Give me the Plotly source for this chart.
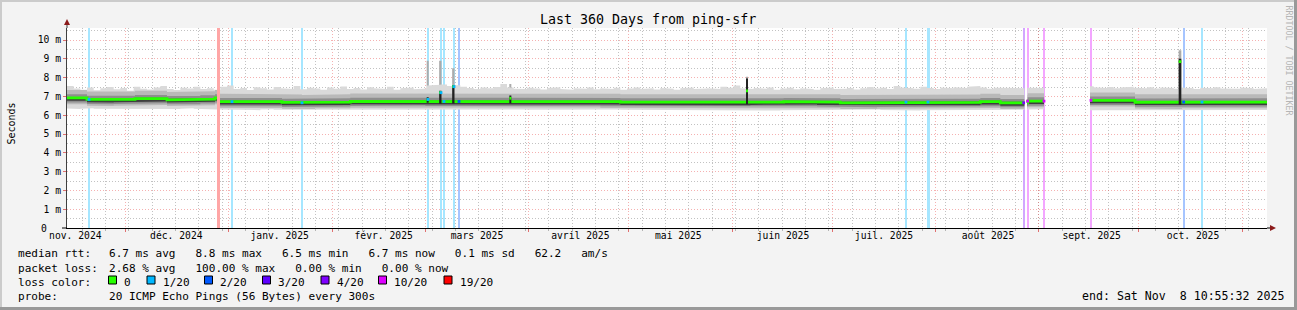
import plotly.graph_objects as go

# ---------------------------------------------------------------- data
SPAN_DAYS = 360.0                       # 360 days ending Sat Nov 8 2025 10:55:32
Y_TOP = 10.64                            # upper end of the value axis (ms)

month_start_days = [17.54, 48.54, 79.54, 107.54, 138.54, 168.54, 199.54,
                    229.54, 260.54, 291.54, 321.54, 352.54]
month_label_days = [2.5, 32.8, 63.8, 95.0, 123.0, 154.0, 183.4, 214.8,
                    245.1, 276.3, 307.4, 337.8]
month_labels = ["nov. 2024", "déc. 2024", "janv. 2025", "févr. 2025",
                "mars 2025", "avril 2025", "mai 2025", "juin 2025",
                "juil. 2025", "août 2025", "sept. 2025", "oct. 2025"]
first_monday_day = 4.54
week_days = 7

y_tick_vals = [1, 2, 3, 4, 5, 6, 7, 8, 9, 10]
y_tick_text = ["1 m", "2 m", "3 m", "4 m", "5 m", "6 m", "7 m",
               "8 m", "9 m", "10 m"]
y_zero_text = "0"
y_half_vals = [0.5, 1.5, 2.5, 3.5, 4.5, 5.5, 6.5, 7.5, 8.5, 9.5, 10.5]

# median rtt (ms), piecewise constant from each start day
median_start = [0.0, 6.0, 12.0, 14.0, 20.4, 30.0, 40.0, 44.4, 45.9, 64.5,
                70.5, 74.4, 85.0, 95.0, 104.0, 107.5, 118.0, 140.0, 150.0,
                160.0, 166.0, 175.0, 184.0, 195.0, 205.0, 215.0, 225.0,
                232.0, 243.0, 250.0, 262.0, 274.0, 280.0, 288.2, 306.9,
                320.4, 328.0, 334.5, 345.0, 352.0]
median_ms = [6.92, 6.84, 6.82, 6.84, 6.88, 6.82, 6.86, 6.92, 6.72, 6.68,
             6.66, 6.70, 6.73, 6.75, 6.76, 6.73, 6.74, 6.72, 6.74,
             6.72, 6.70, 6.68, 6.70, 6.68, 6.70, 6.72, 6.70,
             6.66, 6.68, 6.70, 6.68, 6.72, 6.66, 6.75, 6.79,
             6.69, 6.66, 6.70, 6.69, 6.70]

# outer smoke envelope (ms), one value per 2-day bin
envelope_bin_days = 2.0
smoke_top_ms = [
    7.55, 7.42, 7.36, 7.48, 7.33, 7.44, 7.50, 7.38, 7.45, 7.30, 7.52, 7.41,
    7.37, 7.47, 7.55, 7.40, 7.34, 7.46, 7.42, 7.51, 7.39, 7.44, 7.36, 7.52,
    7.58, 7.40, 7.45, 7.34, 7.49, 7.43, 7.37, 7.50, 7.44, 7.40, 7.56, 7.38,
    7.46, 7.42, 7.35, 7.48, 7.41, 7.53, 7.39, 7.45, 7.37, 7.49, 7.43, 7.40,
    7.51, 7.36, 7.44, 7.47, 7.38, 7.42, 7.58, 7.62, 7.64, 7.55, 7.60, 7.52,
    7.45, 7.40, 7.48, 7.43, 7.50, 7.66, 7.47, 7.41, 7.39, 7.46, 7.42, 7.37,
    7.45, 7.49, 7.40, 7.36, 7.44, 7.41, 7.47, 7.38, 7.43, 7.39, 7.46, 7.35,
    7.42, 7.48, 7.40, 7.44, 7.37, 7.45, 7.41, 7.36, 7.43, 7.47, 7.39, 7.42,
    7.44, 7.40, 7.52, 7.46, 7.58, 7.43, 7.39, 7.45, 7.41, 7.48, 7.36, 7.42,
    7.46, 7.38, 7.44, 7.40, 7.35, 7.43, 7.47, 7.39, 7.41, 7.45, 7.37, 7.44,
    7.50, 7.42, 7.46, 7.40, 7.56, 7.48, 7.44, 7.41, 7.52, 7.45, 7.39, 7.47,
    7.43, 7.49, 7.45, 7.51, 7.55, 7.47, 7.41, 7.46, 7.48, 7.44, 7.46, 7.44,
    7.46, 7.44, 7.45, 7.50, 7.53, 7.48, 7.56, 7.51, 7.47, 7.54, 7.49, 7.45,
    7.50, 7.43, 7.48, 7.52, 7.46, 7.44, 7.49, 7.42, 7.47, 7.45, 7.41, 7.48,
    7.44, 7.40, 7.46, 7.43, 7.49, 7.42, 7.45, 7.41, 7.47, 7.43, 7.40, 7.44]
smoke_bottom_ms = [
    6.36, 6.33, 6.35, 6.37, 6.34, 6.33, 6.36, 6.34, 6.35, 6.32, 6.34, 6.36,
    6.33, 6.35, 6.34, 6.36, 6.33, 6.35, 6.37, 6.34, 6.33, 6.35, 6.31, 6.29,
    6.30, 6.28, 6.31, 6.29, 6.27, 6.30, 6.32, 6.29, 6.28, 6.30, 6.31, 6.28,
    6.29, 6.31, 6.30, 6.28, 6.27, 6.29, 6.30, 6.31, 6.28, 6.29, 6.30, 6.28,
    6.29, 6.31, 6.30, 6.28, 6.27, 6.29, 6.30, 6.28, 6.29, 6.31, 6.30, 6.28,
    6.29, 6.30, 6.27, 6.28, 6.30, 6.29, 6.28, 6.30, 6.31, 6.29, 6.28, 6.27,
    6.29, 6.28, 6.30, 6.29, 6.27, 6.26, 6.28, 6.29, 6.27, 6.28, 6.30, 6.29,
    6.28, 6.27, 6.29, 6.28, 6.26, 6.28, 6.29, 6.27, 6.28, 6.29, 6.27, 6.26,
    6.28, 6.27, 6.29, 6.28, 6.27, 6.25, 6.27, 6.26, 6.28, 6.27, 6.25, 6.26,
    6.28, 6.27, 6.29, 6.28, 6.26, 6.27, 6.28, 6.26, 6.27, 6.28, 6.26, 6.27,
    6.29, 6.30, 6.28, 6.29, 6.27, 6.26, 6.28, 6.25, 6.26, 6.27, 6.28, 6.29,
    6.28, 6.30, 6.29, 6.28, 6.29, 6.29, 6.30, 6.29, 6.29, 6.29, 6.29, 6.29,
    6.31, 6.30, 6.32, 6.31, 6.30, 6.31, 6.29, 6.30, 6.28, 6.27, 6.29, 6.28,
    6.27, 6.26, 6.28, 6.27, 6.29, 6.28, 6.27, 6.29, 6.28, 6.26, 6.28, 6.27,
    6.28, 6.27, 6.29, 6.28, 6.27, 6.28, 6.29, 6.27, 6.28, 6.27, 6.26, 6.28]

# typical distance of the inner ping quantiles from the median (ms)
quantile_up_ms = [0.05, 0.20, 0.42]
quantile_down_ms = [0.15, 0.24, 0.33]

# spans that hold data (days)
data_from = [0.0, 45.9, 288.1, 306.9]
data_to = [45.0, 287.2, 293.1, 360.0]

# short spikes
spike_day = [108.2, 112.0, 115.9, 133.0, 204.0, 333.9]
spike_width = [0.6, 0.7, 0.7, 0.6, 0.6, 0.8]
spike_med_ms = [6.84, 7.20, 7.52, 6.90, 7.30, 8.85]
spike_dark_top_ms = [6.95, 7.30, 7.60, 7.05, 7.95, 9.00]
spike_smoke_top_ms = [8.90, 8.90, 8.50, 7.66, 8.05, 9.45]

# packet loss events
loss_day = [6.6, 45.4, 49.5, 70.5, 108.3, 112.2, 113.1, 116.1, 117.6,
            251.7, 258.3, 287.0, 288.2, 293.1, 307.2, 335.0, 340.5]
loss_width = [0.6, 0.9, 0.45, 0.45, 0.6, 0.6, 0.6, 0.6, 0.6,
              0.6, 0.9, 0.6, 0.6, 0.6, 0.6, 0.6, 0.45]
loss_level = [1, 6, 1, 1, 1, 1, 1, 1, 2, 1, 1, 4, 5, 5, 5, 2, 1]

loss_labels = ["0", "1/20", "2/20", "3/20", "4/20", "10/20", "19/20"]
loss_colors = ["#26ff00", "#00b8ff", "#0059ff", "#5e00ff", "#7e00ff",
               "#dd00ff", "#ff0000"]

median_line = "median rtt:"
median_stats = "6.7 ms avg   8.8 ms max   6.5 ms min   6.7 ms now   0.1 ms sd   62.2   am/s"
loss_line = "packet loss:"
loss_stats = "2.68 % avg   100.00 % max   0.00 % min   0.00 % now"
probe_line = "probe:"
probe_text = "20 ICMP Echo Pings (56 Bytes) every 300s"
end_text = "end: Sat Nov  8 10:55:32 2025"
title_text = "Last 360 Days from ping-sfr"
y_title = "Seconds"
side_text = "RRDTOOL / TOBI OETIKER"

# ---------------------------------------------------------------- helpers
MONO = "DejaVu Sans Mono"
L, T, W, H = 67, 28, 1200, 200          # plot area in pixels
NB = "\u00a0"


def px(x):
    return (x - L) / W


def py(y):
    return (T + H - y) / H


def txt(s):
    return s.replace(" ", NB)


def lighten(hex_color, a=0.35):
    r, g, b = (int(hex_color[i:i + 2], 16) for i in (1, 3, 5))
    mix = lambda c: round(255 * (1 - a) + c * a)
    return f"rgb({mix(r)},{mix(g)},{mix(b)})"


def seg_path(starts, vals, a, b):
    xs, ys = [], []
    for i, s in enumerate(starts):
        e = starts[i + 1] if i + 1 < len(starts) else SPAN_DAYS
        lo, hi = max(s, a), min(e, b)
        if hi > lo:
            xs += [lo, hi]
            ys += [vals[i], vals[i]]
    return xs, ys


env_starts = [i * envelope_bin_days for i in range(len(smoke_top_ms))]


def band_trace(lower, upper, color):
    X, Y = [], []
    for a, b in zip(data_from, data_to):
        ux, uy = seg_path(upper[0], upper[1], a, b)
        lx, ly = seg_path(lower[0], lower[1], a, b)
        X += ux + lx[::-1] + [None]
        Y += uy + ly[::-1] + [None]
    return go.Scatter(x=X, y=Y, mode="lines", fill="toself", fillcolor=color,
                      line=dict(width=0), hoverinfo="skip")


def median_at(d):
    for sd, sw, sm in zip(spike_day, spike_width, spike_med_ms):
        if abs(d - sd) <= sw / 2 + 0.35:
            return sm
    v = median_ms[0]
    for s, m in zip(median_start, median_ms):
        if s <= d:
            v = m
    return v


def has_data(d):
    return any(a <= d <= b for a, b in zip(data_from, data_to))


fig = go.Figure()

# loss bars (full height, pale loss colour)
fig.add_trace(go.Bar(x=loss_day, y=[Y_TOP] * len(loss_day), base=0,
                     width=loss_width,
                     marker=dict(color=[lighten(loss_colors[l]) for l in loss_level],
                                 line=dict(width=0)),
                     hoverinfo="skip"))

# spike smoke columns (behind the main smoke)
SX, SY = [], []
for d, w, top in zip(spike_day, spike_width, spike_smoke_top_ms):
    SX += [d - w / 2, d + w / 2, d + w / 2, d - w / 2, None]
    SY += [6.35, 6.35, top, top, None]
fig.add_trace(go.Scatter(x=SX, y=SY, mode="lines", fill="toself",
                         fillcolor="#ababab", line=dict(width=0), hoverinfo="skip"))

# smoke bands
up = [(median_start, [m + q for m in median_ms]) for q in quantile_up_ms]
dn = [(median_start, [m - q for m in median_ms]) for q in quantile_down_ms]
fig.add_trace(band_trace((env_starts, smoke_bottom_ms), (env_starts, smoke_top_ms), "#dadada"))
fig.add_trace(band_trace(dn[2], up[2], "#b9b9b9"))
fig.add_trace(band_trace(dn[1], up[1], "#8e8e8e"))
fig.add_trace(band_trace(dn[0], up[0], "#3e3e3e"))

# median line (green)
MX, MY = [], []
for a, b in zip(data_from, data_to):
    xs, ys = seg_path(median_start, median_ms, a, b)
    MX += xs + [None]
    MY += ys + [None]
fig.add_trace(go.Scatter(x=MX, y=MY, mode="lines",
                         line=dict(color=loss_colors[0], width=2.8), hoverinfo="skip"))

# spike dark columns + their median
DX, DY, KX, KY = [], [], [], []
for d, w, m, top in zip(spike_day, spike_width, spike_med_ms, spike_dark_top_ms):
    base = median_at(d - 1.0) - 0.1
    DX += [d - w / 2, d + w / 2, d + w / 2, d - w / 2, None]
    DY += [base, base, top, top, None]
    KX += [d - w / 2, d + w / 2, None]
    KY += [m, m, None]
fig.add_trace(go.Scatter(x=DX, y=DY, mode="lines", fill="toself",
                         fillcolor="#222222", line=dict(width=0), hoverinfo="skip"))
fig.add_trace(go.Scatter(x=KX, y=KY, mode="lines",
                         line=dict(color=loss_colors[0], width=2.8), hoverinfo="skip"))

# median coloured by loss at loss events
ex = [d for d in loss_day if has_data(d)]
ec = [loss_colors[l] for d, l in zip(loss_day, loss_level) if has_data(d)]
fig.add_trace(go.Scatter(x=ex, y=[median_at(d) for d in ex], mode="markers",
                         marker=dict(symbol="square", size=2.8, color=ec, line=dict(width=0)),
                         hoverinfo="skip"))

# carriers for the overlay axes (month grid / month labels / half-m grid)
for ax in ("x2", "x3"):
    fig.add_trace(go.Scatter(x=[0, SPAN_DAYS], y=[None, None], xaxis=ax,
                             mode="lines", hoverinfo="skip"))
fig.add_trace(go.Scatter(x=[0, SPAN_DAYS], y=[None, None], yaxis="y2",
                         mode="lines", hoverinfo="skip"))

RED_GRID = "rgba(230,60,60,0.40)"
GRAY_GRID = "#c2c2c2"
DOT = "1px,2px"

fig.update_layout(
    width=1297, height=310,
    margin=dict(l=L, r=1297 - L - W, t=T, b=310 - T - H, pad=0),
    paper_bgcolor="#f3f3f3", plot_bgcolor="#ffffff",
    showlegend=False, barmode="overlay", bargap=0,
    # weekly grid
    xaxis=dict(range=[0, SPAN_DAYS], tickmode="linear", tick0=first_monday_day,
               dtick=week_days, showticklabels=False, ticks="outside", ticklen=2,
               tickcolor="#b4b4b4", showgrid=True, gridcolor=GRAY_GRID,
               griddash=DOT, gridwidth=1, zeroline=False,
               showline=True, linecolor="#000000", linewidth=1),
    # month grid
    xaxis2=dict(overlaying="x", anchor="y", side="bottom", range=[0, SPAN_DAYS],
                tickmode="array", tickvals=month_start_days, showticklabels=False,
                showgrid=True, gridcolor=RED_GRID, griddash=DOT, gridwidth=1,
                ticks="outside", ticklen=3, tickcolor="#e07070", zeroline=False),
    # month labels
    xaxis3=dict(overlaying="x", anchor="y", side="bottom", range=[0, SPAN_DAYS],
                tickmode="array", tickvals=month_label_days, ticktext=month_labels,
                ticks="", showgrid=False, zeroline=False, ticklabelstandoff=0,
                tickfont=dict(family=MONO, size=9.7, color="#000000")),
    yaxis2=dict(overlaying="y", anchor="x", side="left", range=[0, Y_TOP],
                tickmode="array", tickvals=y_half_vals, showticklabels=False,
                showgrid=True, gridcolor=GRAY_GRID, griddash=DOT, gridwidth=1,
                ticks="", zeroline=False),
    yaxis=dict(range=[0, Y_TOP], tickmode="array", tickvals=y_tick_vals,
               ticktext=[txt(t) for t in y_tick_text], showgrid=True,
               gridcolor=RED_GRID, griddash=DOT, gridwidth=1, zeroline=False,
               showline=True, linecolor="#404040", linewidth=1, ticks="outside",
               ticklen=3, tickcolor="#e07070",
               tickfont=dict(family=MONO, size=9.7, color="#000000")),
)

# frame, axis extensions and arrows
shapes = [
    dict(type="rect", x0=px(0), x1=px(1297), y0=py(0), y1=py(2), fillcolor="#cbcbcb"),
    dict(type="rect", x0=px(0), x1=px(2), y0=py(0), y1=py(310), fillcolor="#cbcbcb"),
    dict(type="rect", x0=px(1294), x1=px(1297), y0=py(0), y1=py(310), fillcolor="#999999"),
    dict(type="rect", x0=px(0), x1=px(1297), y0=py(307), y1=py(310), fillcolor="#999999"),
    dict(type="line", x0=px(67), x1=px(67), y0=py(28), y1=py(23), line=dict(color="#404040", width=1)),
    dict(type="line", x0=px(62), x1=px(67), y0=py(228), y1=py(228), line=dict(color="#000000", width=1)),
    dict(type="line", x0=px(1267), x1=px(1271), y0=py(228), y1=py(228), line=dict(color="#000000", width=1)),
    dict(type="path", path=f"M {px(64)} {py(25)} L {px(70)} {py(25)} L {px(67)} {py(19)} Z",
         fillcolor="#8b1a1a", line=dict(width=0)),
    dict(type="path", path=f"M {px(1270)} {py(225)} L {px(1270)} {py(231)} L {px(1276)} {py(228)} Z",
         fillcolor="#8b1a1a", line=dict(width=0)),
]
for s in shapes:
    s.setdefault("line", dict(width=0))
    s.update(xref="paper", yref="paper", layer="above")
    fig.add_shape(**s)


def note(x, y, text, size=11.05, anchor="left", color="#000000", angle=0):
    fig.add_annotation(x=px(x), y=py(y), xref="paper", yref="paper", text=txt(text),
                       showarrow=False, xanchor=anchor, yanchor="middle",
                       borderpad=0, textangle=angle,
                       font=dict(family=MONO, size=size, color=color))


# "0" of the value axis sits where the digits of the other labels end
note(47.5, 228, y_zero_text, size=9.7, anchor="right")

note(648, 19, title_text, size=13.3, anchor="center")
note(10.5, 124, y_title, size=10, anchor="center", angle=-90)
note(1288.5, 60, side_text, size=8.3, anchor="center", color="#b5b5b5", angle=90)

note(16.7, 254, median_line)
note(107.5, 254, median_stats)
note(16.7, 268, loss_line)
note(107.5, 268, loss_stats)
note(16.7, 282, "loss color:")
swatch_x = [108.5, 147, 204.5, 262.5, 321, 378.5, 444]
for sx, lab, col in zip(swatch_x, loss_labels, loss_colors):
    fig.add_shape(type="rect", xref="paper", yref="paper", x0=px(sx), x1=px(sx + 8),
                  y0=py(276), y1=py(284), fillcolor=col,
                  line=dict(color="#000000", width=1), layer="above")
    note(sx + 14.5, 282, lab)
note(16.7, 296, probe_line)
note(107.5, 296, probe_text)
note(1285, 296, end_text, size=11.6, anchor="right")

fig.write_html("out.html")
